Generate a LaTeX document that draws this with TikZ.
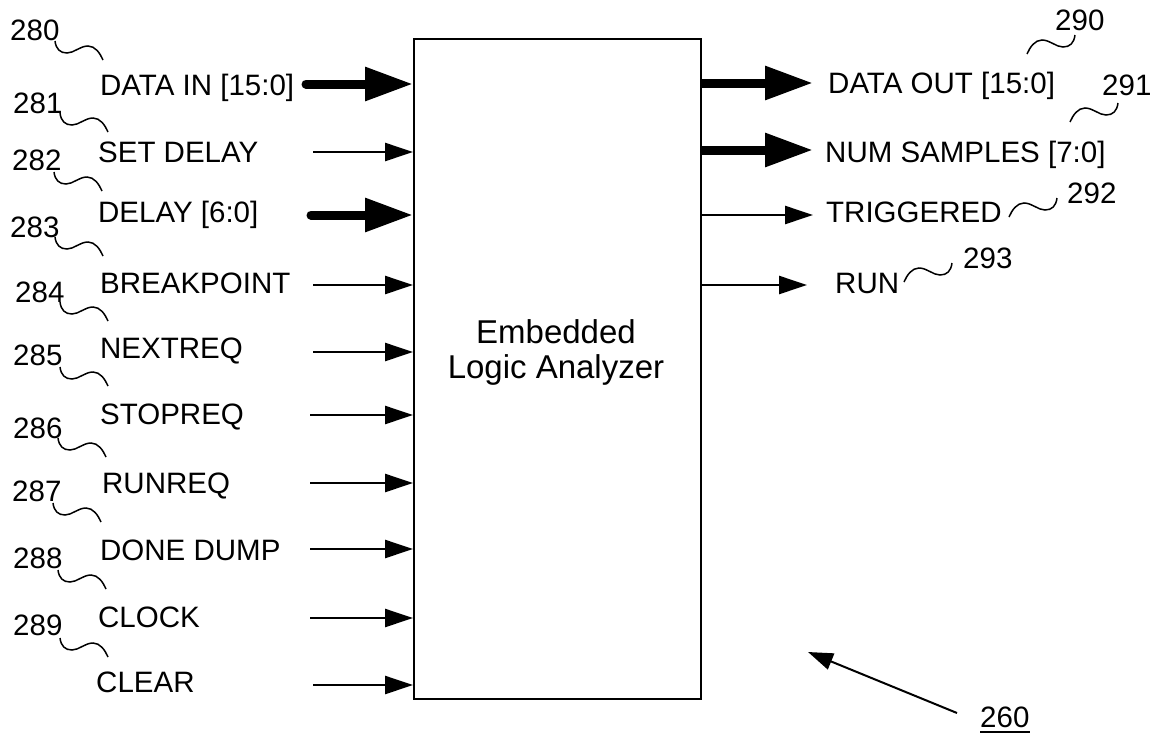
\documentclass[tikz,border=0pt]{standalone}
\usepackage{fontspec}
\setmainfont{Liberation Sans}
\usetikzlibrary{arrows.meta}
\begin{document}
\begin{tikzpicture}[x=1pt,y=-1pt,
  lbl/.style={anchor=base west, inner sep=0pt, font=\fontsize{29.5}{34}\selectfont},
  thickarr/.style={line width=9pt, line cap=round, -{Triangle[length=48pt,width=32pt]}},
  thinarr/.style={line width=2.5pt, -{Triangle[length=28pt,width=18pt]}},
  lead/.style={line width=1.5pt},
  leadL/.pic={\draw[lead] (0,0) .. controls (1,8) and (5,12) .. (12,12) .. controls (19,12) and (25,5) .. (33,5) .. controls (40,5) and (45,12) .. (48,19);},
  leadR/.pic={\draw[lead] (0,0) .. controls (-1,8) and (-5,12) .. (-12,12) .. controls (-19,12) and (-25,5) .. (-33,5) .. controls (-40,5) and (-45,12) .. (-48,19);},
]
\useasboundingbox (0,0) rectangle (1160,737);

% main block
\node[draw, line width=2pt, minimum width=287pt, minimum height=660pt, inner sep=0pt] (box) at (557.5,369) {};
\node[align=center, font=\fontsize{33}{35}\selectfont] (title) at (556,352) {Embedded\\Logic Analyzer};

% left labels
\node[lbl] (l0) at (100,95) {DATA IN [15:0]};
\node[lbl] (l1) at (98,162) {SET DELAY};
\node[lbl] (l2) at (98,222) {DELAY [6:0]};
\node[lbl] (l3) at (100,293) {BREAKPOINT};
\node[lbl] (l4) at (100,358) {NEXTREQ};
\node[lbl] (l5) at (100,424) {STOPREQ};
\node[lbl] (l6) at (102,493) {RUNREQ};
\node[lbl] (l7) at (100,560) {DONE DUMP};
\node[lbl] (l8) at (98,627) {CLOCK};
\node[lbl] (l9) at (96,692) {CLEAR};

% input arrow start points
\coordinate (s0) at (306,84);
\coordinate (s1) at (313,152);
\coordinate (s2) at (311,215);
\coordinate (s3) at (313,285);
\coordinate (s4) at (313,352);
\coordinate (s5) at (310,415);
\coordinate (s6) at (310,483);
\coordinate (s7) at (310,549);
\coordinate (s8) at (310,618);
\coordinate (s9) at (313,685);

\draw[thickarr] (s0) -- (s0 -| box.west);
\draw[thinarr]  (s1) -- (s1 -| box.west);
\draw[thickarr] (s2) -- (s2 -| box.west);
\draw[thinarr]  (s3) -- (s3 -| box.west);
\draw[thinarr]  (s4) -- (s4 -| box.west);
\draw[thinarr]  (s5) -- (s5 -| box.west);
\draw[thinarr]  (s6) -- (s6 -| box.west);
\draw[thinarr]  (s7) -- (s7 -| box.west);
\draw[thinarr]  (s8) -- (s8 -| box.west);
\draw[thinarr]  (s9) -- (s9 -| box.west);

% left reference numbers
\node[lbl] (n280) at (10,40) {280};
\node[lbl] (n281) at (13,113) {281};
\node[lbl] (n282) at (12,170) {282};
\node[lbl] (n283) at (10,237) {283};
\node[lbl] (n284) at (15,302) {284};
\node[lbl] (n285) at (13,365) {285};
\node[lbl] (n286) at (13,438) {286};
\node[lbl] (n287) at (12,501) {287};
\node[lbl] (n288) at (13,568) {288};
\node[lbl] (n289) at (13,635) {289};

\pic at (55,41) {leadL};
\pic at (60,113) {leadL};
\pic at (54,172) {leadL};
\pic at (55,237) {leadL};
\pic at (60,302) {leadL};
\pic at (60,367) {leadL};
\pic at (58,438) {leadL};
\pic at (53,503) {leadL};
\pic at (58,570) {leadL};
\pic at (60,638) {leadL};

% right labels
\node[lbl] (r0) at (828,93) {DATA OUT [15:0]};
\node[lbl] (r1) at (825,162) {NUM SAMPLES [7:0]};
\node[lbl] (r2) at (826,222) {TRIGGERED};
\node[lbl] (r3) at (835,293) {RUN};

\coordinate (o0) at (813,83);
\coordinate (o1) at (813,150);
\coordinate (o2) at (813,215);
\coordinate (o3) at (807,285);

\draw[thickarr, line cap=butt] (box.east |- o0) -- (o0);
\draw[thickarr, line cap=butt] (box.east |- o1) -- (o1);
\draw[thinarr] (box.east |- o2) -- (o2);
\draw[thinarr] (box.east |- o3) -- (o3);

% right reference numbers
\node[lbl] (n290) at (1055,30) {290};
\node[lbl] (n291) at (1102,95) {291};
\node[lbl] (n292) at (1067,203) {292};
\node[lbl] (n293) at (963,268) {293};

\pic at (1075,35) {leadR};
\pic at (1118,103) {leadR};
\pic at (1057,198) {leadR};
\pic at (952,263) {leadR};

% overall reference
\node[lbl] (n260) at (980,727) {260};
\draw[line width=2.5pt] ([yshift=-5pt]n260.base west) -- ([yshift=-5pt]n260.base east);
\coordinate (p260) at (957,713);
\coordinate (t260) at (808,652);
\draw[line width=2pt, -{Triangle[length=25pt,width=17pt]}] (p260) -- (t260);
\end{tikzpicture}
\end{document}
